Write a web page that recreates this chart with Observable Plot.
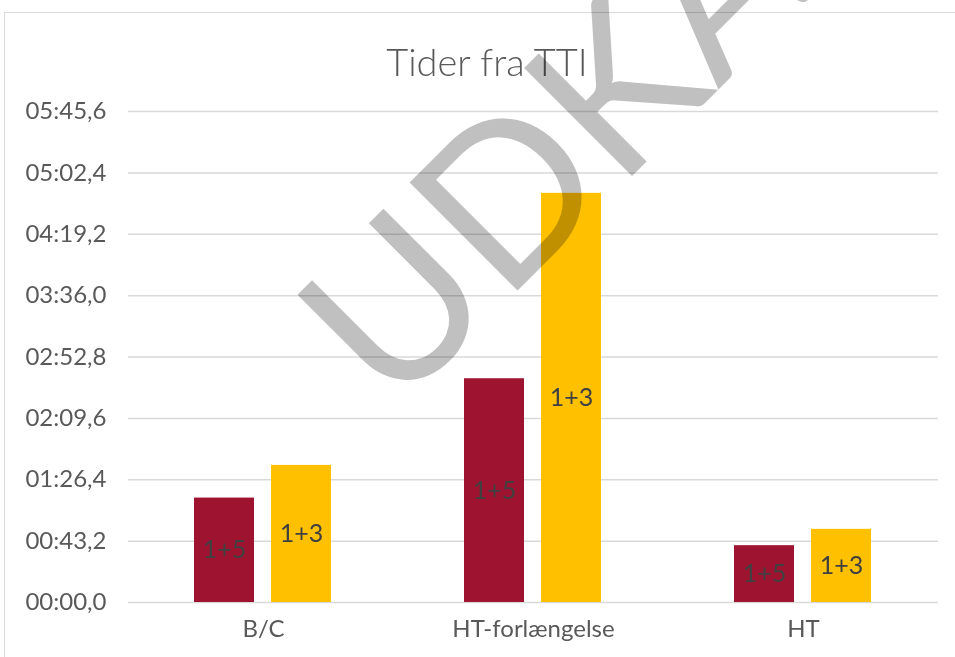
<!DOCTYPE html>
<html>
<head>
<meta charset="utf-8">
<script src="https://cdn.jsdelivr.net/npm/d3@7"></script>
<script src="https://cdn.jsdelivr.net/npm/@observablehq/plot@0.6"></script>
<style>
  html, body { margin: 0; padding: 0; background: #fff; overflow: hidden; }
  #wrap { position: relative; width: 955px; height: 657px; overflow: hidden; font-family: Lato, "Open Sans", sans-serif; }
  #frame { position: absolute; left: 4px; top: 12px; width: 1100px; height: 800px; border: 1.5px solid #d9d9d9; box-sizing: border-box; }
  #chart { position: absolute; left: 0; top: 0; }
  #title { position: absolute; left: 0; top: 41px; width: 974px; text-align: center; font-size: 38px; font-weight: 300; line-height: 40px; color: #595959; }
  #wm { position: absolute; left: 0; top: 0; width: 955px; height: 657px; pointer-events: none; mix-blend-mode: multiply; }
</style>
</head>
<body>
<div id="wrap">
  <div id="frame"></div>
  <div id="chart"></div>
  <div id="title">Tider fra TTI</div>
  <svg id="wm" width="955" height="657">
    <text x="393" y="415" transform="rotate(-45 393 415)" font-family="Lato, sans-serif" font-weight="normal" font-size="213" fill="#c0c0c0">UDKAST</text>
  </svg>
</div>
<script>
// Data (seconds)
const categories = ["B/C", "HT-forlængelse", "HT"];
const seriesNames = ["1+5", "1+3"];
const values15 = [73.5, 157.5, 40];
const values13 = [96.5, 288, 51.5];
const yTicks = [0, 43.2, 86.4, 129.6, 172.8, 216, 259.2, 302.4, 345.6];
const colors = ["#9E1430", "#FFC000"];

const data = categories.flatMap((c, i) => [
  {cat: c, s: seriesNames[0], v: values15[i]},
  {cat: c, s: seriesNames[1], v: values13[i]}
]);

function fmt(v) {
  const tenths = Math.round(v * 10);
  const m = Math.floor(tenths / 600);
  const rest = tenths - m * 600;
  const s = Math.floor(rest / 10);
  const t = rest % 10;
  return String(m).padStart(2, "0") + ":" + String(s).padStart(2, "0") + "," + t;
}

const chart = Plot.plot({
  width: 955,
  height: 657,
  marginTop: 111,
  marginBottom: 55,
  marginLeft: 128,
  marginRight: 17,
  style: {fontFamily: "Lato, 'Open Sans', sans-serif", fontSize: "24px", color: "#595959", background: "transparent", overflow: "visible"},
  fx: {domain: categories, padding: 0, label: null, axis: "bottom", tickSize: 0, tickPadding: 17},
  x: {domain: seriesNames, paddingInner: 0.22, paddingOuter: 0.863, axis: null},
  y: {domain: [0, 345.6], ticks: yTicks, tickFormat: fmt, tickSize: 0, tickPadding: 22, label: null},
  color: {domain: seriesNames, range: colors},
  marks: [
    Plot.ruleY(yTicks, {stroke: "#d9d9d9", strokeWidth: 1.5}),
    Plot.barY(data, {fx: "cat", x: "s", y: "v", fill: "s"}),
    Plot.text(data, {fx: "cat", x: "s", y: d => d.v / 2, text: "s", fill: "#404040", fontSize: 25})
  ]
});
document.getElementById("chart").appendChild(chart);
</script>
</body>
</html>
